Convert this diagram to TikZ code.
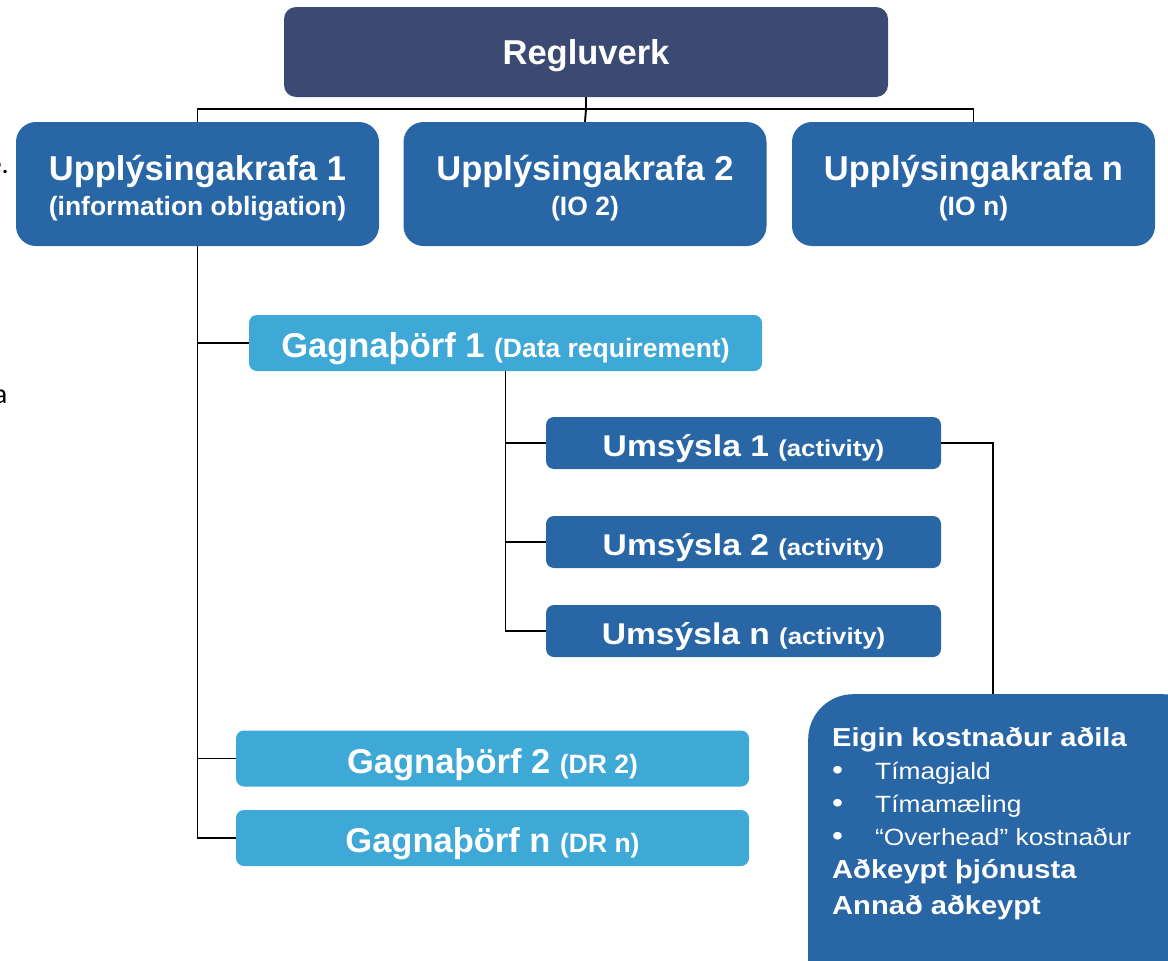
\documentclass[tikz,border=0pt]{standalone}
\usepackage{fontspec}
\setmainfont{Liberation Sans}
\newfontfamily\widesans[FakeStretch=1.12]{Liberation Sans}
\newfontfamily\carl{Carlito}
\definecolor{regc}{HTML}{3B4A72}
\definecolor{darkc}{HTML}{2866A6}
\definecolor{lightc}{HTML}{3EA8D7}
\newcommand{\fsz}[2]{\fontsize{#1}{#2}\selectfont}
\newcommand{\topstrut}{\rule{0pt}{33pt}}
\begin{document}
\begin{tikzpicture}[x=1pt,y=-1pt,
  boxbase/.style={inner sep=0pt, text=white, align=center},
  regbox/.style={boxbase, fill=regc, rounded corners=12pt, minimum width=604pt, minimum height=90pt,
    font=\bfseries\fsz{34.5}{40}, text height=24pt, text depth=0pt},
  iobox/.style={boxbase, fill=darkc, rounded corners=20pt, minimum width=363pt, minimum height=124pt,
    font=\bfseries\fsz{34.5}{35}},
  drbox/.style={boxbase, fill=lightc, rounded corners=8pt, minimum width=513pt, minimum height=56pt,
    font=\bfseries\fsz{34.5}{40}, text height=29pt, text depth=0pt},
  actbox/.style={boxbase, fill=darkc, rounded corners=8pt, minimum width=395pt, minimum height=52pt,
    font=\widesans\bfseries\fsz{30}{36}, text height=27.5pt, text depth=0pt},
  wire/.style={draw=black, line width=1.9pt},
  stray/.style={anchor=base east, inner sep=0pt, text=black, font=\carl\fsz{28}{32}},
]
\useasboundingbox (0,0) rectangle (1168,961);

% stray cropped text at the left edge
\node[stray] (se) at (9,173) {e.};
\node[stray] (sa) at (7.5,403) {a};

% boxes
\node[regbox] (reg) at (586,52) {Regluverk};
\node[iobox] (io1) at (197.5,184) {\topstrut Upplýsingakrafa 1\\\fsz{26.5}{35}(information obligation)};
\node[iobox] (io2) at (585,184) {\topstrut Upplýsingakrafa 2\\\fsz{26.5}{35}(IO 2)};
\node[iobox] (ion) at (973.5,184) {\topstrut Upplýsingakrafa n\\\fsz{26.5}{35}(IO n)};

\node[drbox] (g1) at (505.5,343) {Gagnaþörf 1 {\fsz{26.5}{40}(Data requirement)}};
\node[drbox] (g2) at (492.5,758.5) {Gagnaþörf 2 {\fsz{26.5}{40}(DR 2)}};
\node[drbox] (gn) at (492.5,838) {Gagnaþörf n {\fsz{26.5}{40}(DR n)}};

\node[actbox] (u1) at (743.5,443) {Umsýsla 1 {\fsz{23}{36}(activity)}};
\node[actbox] (u2) at (743.5,542) {Umsýsla 2 {\fsz{23}{36}(activity)}};
\node[actbox] (un) at (743.5,631) {Umsýsla n {\fsz{23}{36}(activity)}};

\node[fill=darkc, rounded corners=45pt, minimum width=400pt, minimum height=320pt,
      anchor=north west, inner sep=0pt] (eigin) at (808,694) {};
\node[anchor=north west, inner sep=0pt, text=white, align=left, font=\widesans\fsz{23.5}{33}] (eigintxt) at (832,727)
  {{\bfseries\fsz{26}{33}Eigin kostnaður aðila}\\
   \makebox[43pt][l]{\fsz{28}{33}•}Tímagjald\\
   \makebox[43pt][l]{\fsz{28}{33}•}Tímamæling\\
   \makebox[43pt][l]{\fsz{28}{33}•}“Overhead” kostnaður\\
   {\bfseries\fsz{26}{33}Aðkeypt þjónusta}\\[3pt]
   {\bfseries\fsz{26}{33}Annað aðkeypt}};

% connectors
\coordinate (bus) at (586,109);
\coordinate (ej) at (993,694);
\draw[wire] (reg.south) -- (bus);
\draw[wire] (io1.north) |- (bus) -| (ion.north);
\draw[wire] (bus) -- (io2.north);

\draw[wire] (io1.south) |- (gn.west);
\draw[wire] (io1.south |- g1.west) -- (g1.west);
\draw[wire] (io1.south |- g2.west) -- (g2.west);

\draw[wire] (g1.south) |- (un.west);
\draw[wire] (g1.south |- u1.west) -- (u1.west);
\draw[wire] (g1.south |- u2.west) -- (u2.west);

\draw[wire] (u1.east) -| (ej);
\end{tikzpicture}
\end{document}
